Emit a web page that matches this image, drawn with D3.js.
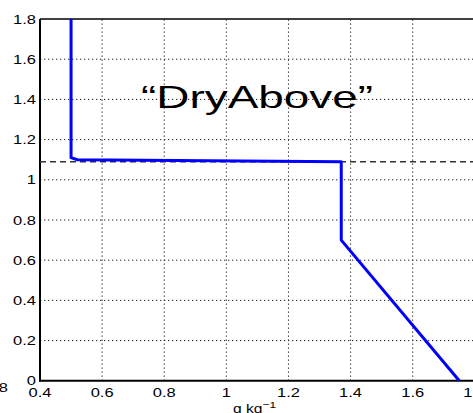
<!DOCTYPE html>
<html>
<head>
<meta charset="utf-8">
<script src="https://cdn.jsdelivr.net/npm/d3@7"></script>
<style>
  html, body { margin: 0; padding: 0; background: #fff; }
  svg { display: block; }
  text { font-family: "Liberation Sans", Arial, Helvetica, sans-serif; fill: #000; }
</style>
</head>
<body>
<script>
// Mixing-ratio profile (g/kg) versus height (km)
const profileX = [0.5, 0.5, 0.52, 1.37, 1.37, 1.75];
const profileY = [1.8, 1.11, 1.10, 1.09, 0.70, 0.0];

// Inversion level marked with a dashed line
const inversionHeight = [1.09];

const xTicks = [0.4, 0.6, 0.8, 1, 1.2, 1.4, 1.6, 1.8];
const yTicks = [0, 0.2, 0.4, 0.6, 0.8, 1, 1.2, 1.4, 1.6, 1.8];
const xLabel = "g kg";
const xLabelExp = "\u22121";
const annotation = "\u201CDryAbove\u201D";

const W = 473, H = 413;
const svg = d3.select("body").append("svg").attr("width", W).attr("height", H);

const x = d3.scaleLinear().domain([0.4, 1.8]).range([40, 474.8]);
const y = d3.scaleLinear().domain([0, 1.8]).range([380.8, 19]);

// dotted grid
const grid = svg.append("g");
grid.selectAll("line.v").data(xTicks.slice(1)).join("line")
  .attr("x1", d => x(d)).attr("x2", d => x(d))
  .attr("y1", y(0)).attr("y2", y(1.8))
  .attr("stroke", "#222").attr("stroke-width", 1).attr("stroke-dasharray", "1.3,2.7");
grid.selectAll("line.h").data(yTicks.slice(1, -1)).join("line")
  .attr("x1", x(0.4)).attr("x2", W)
  .attr("y1", d => y(d)).attr("y2", d => y(d))
  .attr("stroke", "#222").attr("stroke-width", 1).attr("stroke-dasharray", "1.3,2.7");

// frame: left, bottom, top
svg.append("line").attr("x1", x(0.4)).attr("x2", x(0.4)).attr("y1", y(1.8)).attr("y2", y(0) + 1)
  .attr("stroke", "#000").attr("stroke-width", 2);
svg.append("line").attr("x1", x(0.4) - 1).attr("x2", W).attr("y1", y(0)).attr("y2", y(0))
  .attr("stroke", "#000").attr("stroke-width", 2);
svg.append("line").attr("x1", x(0.4)).attr("x2", W).attr("y1", y(1.8)).attr("y2", y(1.8))
  .attr("stroke", "#000").attr("stroke-width", 1.3);

// inversion level
svg.selectAll("line.inv").data(inversionHeight).join("line")
  .attr("x1", x(0.4)).attr("x2", W)
  .attr("y1", d => y(d)).attr("y2", d => y(d))
  .attr("stroke", "#333").attr("stroke-width", 1.4).attr("stroke-dasharray", "6,4");

// profile
const pts = profileX.map((v, i) => [v, profileY[i]]);
svg.append("path").datum(pts)
  .attr("d", d3.line().x(d => x(d[0])).y(d => y(d[1])))
  .attr("fill", "none").attr("stroke", "#0000ff").attr("stroke-width", 3)
  .attr("stroke-linejoin", "round");

// tick labels (wide, MATLAB-like)
const fs = 12.5, sx = 1.32;
svg.selectAll("text.xt").data(xTicks).join("text")
  .attr("transform", d => `translate(${x(d)},397) scale(${sx},1)`)
  .attr("text-anchor", "middle").attr("font-size", fs)
  .text(d => d3.format("~g")(d));
svg.selectAll("text.yt").data(yTicks).join("text")
  .attr("transform", d => `translate(36,${y(d) + 4.5}) scale(${sx},1)`)
  .attr("text-anchor", "end").attr("font-size", fs)
  .text(d => d3.format("~g")(d));

// neighbouring panel's tick label, clipped at the left edge
svg.append("text")
  .attr("transform", `translate(8,392) scale(${sx},1)`)
  .attr("text-anchor", "end").attr("font-size", fs).text("1.8");

// x-axis unit label
const xl = svg.append("text")
  .attr("transform", `translate(233,413) scale(1.25,1)`)
  .attr("font-size", fs);
xl.append("tspan").text(xLabel);
xl.append("tspan").attr("dy", -5).attr("font-size", 9.5).text(xLabelExp);

// annotation
svg.append("text")
  .attr("x", 141).attr("y", 108)
  .attr("font-size", 32)
  .attr("textLength", 232).attr("lengthAdjust", "spacingAndGlyphs")
  .text(annotation);
</script>
</body>
</html>
